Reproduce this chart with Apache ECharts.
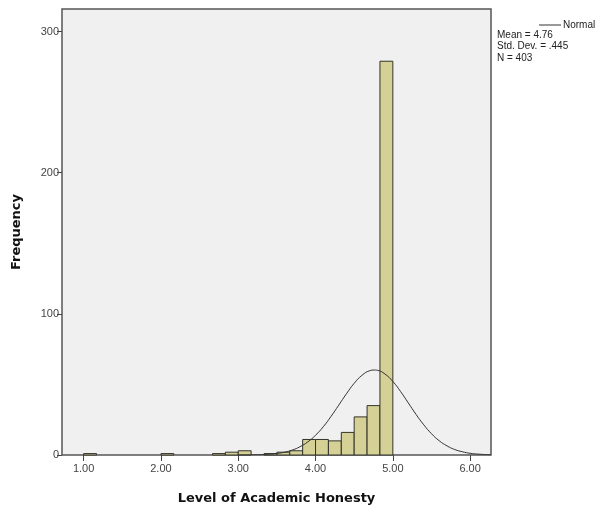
<!DOCTYPE html>
<html>
<head>
    <meta charset="utf-8">
    <script src="https://cdn.jsdelivr.net/npm/echarts@6/dist/echarts.min.js"></script>
    <style>
        body { margin: 0; background: #fff; }
        #hist { width: 597px; height: 511px; }
    </style>
</head>
<body>
    <div id="hist"></div>
    <script type="text/javascript">
        // histogram bins: width 1/6, first bin starts at 1.00
        var binStart = 1.0;
        var binWidth = 1 / 6;
        var counts = [1, 0, 0, 0, 0, 0, 1, 0, 0, 0, 1, 2, 3, 0, 1, 2, 3, 11, 11, 10, 16, 27, 35, 279];
        // fitted normal curve (Mean = 4.76, Std. Dev. = .445, N = 403), read at these x
        var curveX = [3.0, 3.2, 3.4, 3.5, 3.6, 3.7, 3.8, 3.9, 4.0, 4.1, 4.2, 4.3, 4.4, 4.5, 4.6, 4.7, 4.76, 4.8, 4.9, 5.0, 5.1, 5.2, 5.3, 5.4, 5.5, 5.6, 5.7, 5.8, 5.9, 6.0, 6.1, 6.2, 6.27];
        var curveY = [0.02, 0.13, 0.56, 1.09, 2.0, 3.5, 5.9, 9.3, 14.0, 20.0, 27.3, 35.3, 43.4, 50.8, 56.4, 59.7, 60.2, 60.0, 57.3, 52.1, 45.0, 36.9, 28.8, 21.4, 15.1, 10.1, 6.5, 3.9, 2.3, 1.2, 0.65, 0.32, 0.17];
        var xTicks = [1, 2, 3, 4, 5, 6];
        var yTicks = [0, 100, 200, 300];
        var statLines = ['Mean = 4.76', 'Std. Dev. = .445', 'N = 403'];

        var barData = [];
        for (var i = 0; i < counts.length; i++) {
            if (counts[i] > 0) {
                barData.push([binStart + i * binWidth, binStart + (i + 1) * binWidth, counts[i]]);
            }
        }
        var lineData = [];
        for (var j = 0; j < curveX.length; j++) {
            lineData.push([curveX[j], curveY[j]]);
        }

        var myChart = echarts.init(document.getElementById('hist'));
        var graphics = [];
        for (var k = 0; k < statLines.length; k++) {
            graphics.push({
                type: 'text', left: 497, top: 30 + k * 11.5,
                style: { text: statLines[k], font: '10px Arial', fill: '#222' }
            });
        }
        option = {
            animation: false,
            grid: { left: 62, top: 9, right: 106, bottom: 56, show: true,
                    backgroundColor: '#f0f0f0', borderColor: '#555', borderWidth: 1.5 },
            legend: {
                data: ['Normal'], left: 534, top: 15, itemWidth: 22, itemHeight: 8,
                itemGap: 2, icon: 'path://M0,4 L22,4 L22,5 L0,5 Z',
                textStyle: { fontFamily: 'Arial', fontSize: 10, color: '#222', padding: [0, 0, 0, -3] }
            },
            graphic: graphics,
            xAxis: {
                type: 'value', min: 0.72, max: 6.27,
                name: 'Level of Academic Honesty', nameLocation: 'middle', nameGap: 37,
                nameTextStyle: { fontFamily: 'DejaVu Sans', fontWeight: 'bold', fontSize: 13, color: '#111' },
                axisLine: { show: false },
                splitLine: { show: false },
                axisTick: { show: true, customValues: xTicks, length: 6, lineStyle: { color: '#444' } },
                axisLabel: { customValues: xTicks, fontFamily: 'Arial', fontSize: 11, color: '#444', margin: 8,
                             formatter: function (v) { return v.toFixed(2); } }
            },
            yAxis: {
                type: 'value', min: 0, max: 316,
                name: 'Frequency', nameLocation: 'middle', nameGap: 39,
                nameTextStyle: { fontFamily: 'DejaVu Sans', fontWeight: 'bold', fontSize: 13, color: '#111' },
                axisLine: { show: false },
                splitLine: { show: false },
                axisTick: { show: true, customValues: yTicks, length: 5, lineStyle: { color: '#444' } },
                axisLabel: { customValues: yTicks, fontFamily: 'Arial', fontSize: 11, color: '#444', margin: 3 }
            },
            series: [
                {
                    type: 'custom',
                    renderItem: function (params, api) {
                        var p0 = api.coord([api.value(0), api.value(2)]);
                        var p1 = api.coord([api.value(1), 0]);
                        return {
                            type: 'rect',
                            shape: { x: p0[0], y: p0[1], width: p1[0] - p0[0], height: p1[1] - p0[1] },
                            style: { fill: '#d4d096', stroke: '#33332a', lineWidth: 1 }
                        };
                    },
                    encode: { x: [0, 1], y: 2 },
                    data: barData
                },
                {
                    name: 'Normal',
                    type: 'line',
                    smooth: true,
                    showSymbol: false,
                    lineStyle: { color: '#333', width: 1 },
                    itemStyle: { color: '#333' },
                    data: lineData,
                    z: 5
                }
            ]
        };
        myChart.setOption(option);
    </script>
</body>
</html>
